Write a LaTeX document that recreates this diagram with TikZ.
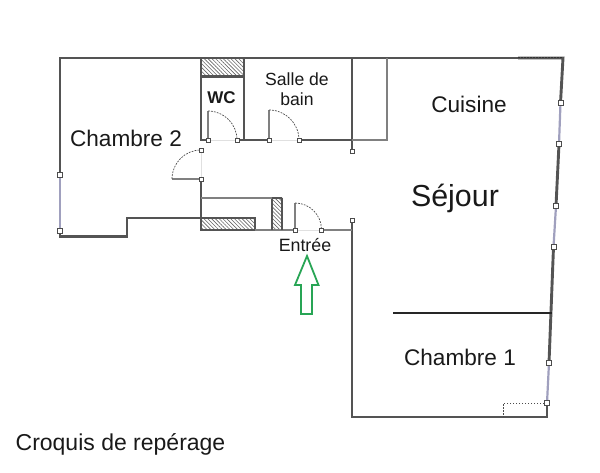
\documentclass[tikz,border=0pt]{standalone}
\usepackage{fontspec}
\setmainfont{Liberation Sans}
\usetikzlibrary{patterns.meta}
\tikzset{
  wall/.style={draw=wallc,line width=2.9pt,line cap=square,line join=miter},
  thinwall/.style={draw=thinc,line width=1.1pt},
  faint/.style={draw=black!12,line width=.8pt},
  leaf/.style={draw=leafc,line width=1.9pt},
  swing/.style={draw=black!70,line width=.7pt,dash pattern=on 1.8pt off 1.2pt},
  glass/.style={draw=glassc,line width=2.2pt},
  hatchbox/.style={pattern={Lines[angle=-45,distance=2.7pt,line width=.6pt]},pattern color=black!60},
  peg/.style={draw=black!70,fill=white,line width=.7pt,inner sep=0pt,minimum size=4pt},
  winpeg/.style={draw=black!70,fill=white,line width=.7pt,inner sep=0pt,minimum size=5.2pt},
  dots/.style={draw=black!70,line width=.9pt,dash pattern=on 1.5pt off 1.5pt},
  room/.style={inner sep=0pt,font=\fontsize{22.6}{26}\selectfont,text=black!90},
  small/.style={inner sep=0pt,font=\fontsize{17.8}{22}\selectfont,text=black!90,align=center},
}
\definecolor{wallc}{gray}{.33}
\definecolor{thinc}{gray}{.5}
\definecolor{leafc}{gray}{.5}
\definecolor{glassc}{RGB}{160,160,190}
\definecolor{arrowc}{RGB}{40,165,85}
\begin{document}
\begin{tikzpicture}[x=1pt,y=-1pt]
\useasboundingbox (0,0) rectangle (600,473);
% hatching
\path[hatchbox] (202,59) rectangle (244,76);
\path[hatchbox] (202,219) rectangle (255,229);
\path[hatchbox] (273,198) rectangle (282,229);
% outer and inner walls
\draw[wall] (60,175) -- (60,58) -- (518,58);
\draw[wall] (518,58) -- (563,58) -- (560.5,103);
\draw[dots,draw=black!80] (518,57) -- (562,57);
\draw[wall] (559,144) -- (556,206);
\draw[wall] (553.5,247) -- (549,363);
\draw[wall] (547,403) -- (547,417) -- (352,417) -- (352,220);
\draw[wall] (60,231) -- (60,236.5) -- (127,236.5) -- (127,218) -- (255,218) -- (255,230);
\draw[wall] (201,58) -- (201,140) -- (208,140);
\draw[wall] (201,179) -- (201,230) -- (255,230);
\draw[wall,line width=1.8pt,draw=thinc] (255,230) -- (295,230);
\draw[wall,line width=1.8pt,draw=thinc] (321,230) -- (352,230);
\draw[wall] (202,76.5) -- (244,76.5);
\draw[wall] (244,58) -- (244,140);
\draw[wall] (237,140) -- (269,140);
\draw[wall] (299,140) -- (352,140);
\draw[wall] (352,58) -- (352,151);
\draw[wall] (272,198) -- (282,198);
\draw[wall,line width=1.6pt] (272,198) -- (272,230);
\draw[wall,line width=1.6pt] (282,198) -- (282,230);
\draw[thinwall] (201,198) -- (272,198);
\draw[thinwall] (352,140) -- (387,140) -- (387,58);
\draw[faint] (208,140) -- (237,140);
\draw[faint] (269,140) -- (299,140);
\draw[faint] (201,151) -- (201,179);
\draw[faint] (295,230) -- (321,230);
% Chambre 1 partition
\draw[draw=black!85,line width=2.4pt] (393,313) -- (552,313);
\draw[dots] (547,403) -- (503,403) -- (503,417);
% doors
\draw[leaf] (201,179) -- (172,179);
\draw[swing] (172,179) arc[start angle=180,end angle=270,radius=29];
\draw[leaf] (208,140) -- (208,111);
\draw[swing] (208,111) arc[start angle=270,end angle=360,radius=29];
\draw[leaf] (269,140) -- (269,110);
\draw[swing] (269,110) arc[start angle=270,end angle=360,radius=30];
\draw[leaf] (295,230) -- (295,203);
\draw[swing] (295,203) arc[start angle=270,end angle=360,radius=26.5];
% windows
\draw[glass] (60,175) -- (60,231);
\draw[glass] (560.5,103) -- (559,144);
\draw[glass] (556,206) -- (553.5,247);
\draw[glass] (549,363) -- (547,403);
% pegs
\node[winpeg] (w1) at (60,175) {};
\node[winpeg] (w2) at (60,231) {};
\node[winpeg] (w3) at (560.5,103) {};
\node[winpeg] (w4) at (559,144) {};
\node[winpeg] (w5) at (556,206) {};
\node[winpeg] (w6) at (553.5,247) {};
\node[winpeg] (w7) at (549,363) {};
\node[winpeg] (w8) at (547,403) {};
\foreach \n/\x/\y in {p1/201/150.5,p2/201/179,p3/208/140,p4/237/140,p5/269/140,p6/299/140,p7/352/151,p8/295/230,p9/321/230,p10/352/220}
  \node[peg] (\n) at (\x,\y) {};
% arrow
\draw[draw=arrowc,line width=1.8pt,line join=miter]
  (307,256) -- (318.5,285) -- (312,285) -- (312,314) -- (301,314) -- (301,285) -- (295,285) -- cycle;
% labels
\node[room] (chambre2) at (126,138) {Chambre 2};
\node[room] (cuisine) at (469,104) {Cuisine};
\node[inner sep=0pt,font=\fontsize{30.4}{34}\selectfont,text=black!90] (sejour) at (455,198) {Séjour};
\node[room] (chambre1) at (460,357) {Chambre 1};
\node[small,font=\fontsize{17.6}{19.5}\selectfont] (salle) at (297,89) {Salle de\\bain};
\node[small,font=\bfseries\fontsize{17}{20}\selectfont] (wc) at (221.5,98) {WC};
\node[small] (entree) at (305,245) {Entrée};
\node[room,font=\fontsize{23}{26}\selectfont] (croquis) at (120.5,444.5) {Croquis de repérage};
\end{tikzpicture}
\end{document}
